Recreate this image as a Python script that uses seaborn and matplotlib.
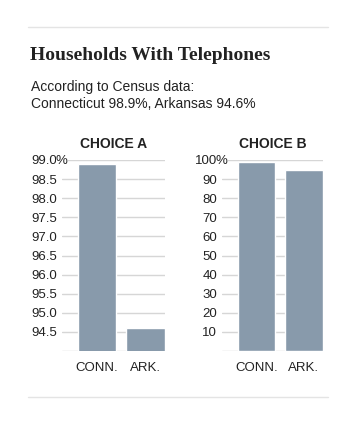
import pandas as pd
import seaborn as sns
import matplotlib.pyplot as plt
from matplotlib.lines import Line2D

# Same data, two y axes: truncated (choice A) vs. zero-based (choice B)
states = ["CONN.", "ARK."]
pct_phones = [98.9, 94.6]

ticks_a = [94.0, 94.5, 95.0, 95.5, 96.0, 96.5, 97.0, 97.5, 98.0, 98.5, 99.0]
labels_a = ["", "94.5", "95.0", "95.5", "96.0", "96.5", "97.0", "97.5", "98.0", "98.5", "99.0"]
ticks_b = [0, 10, 20, 30, 40, 50, 60, 70, 80, 90, 100]
labels_b = ["", "10", "20", "30", "40", "50", "60", "70", "80", "90", "100"]

df = pd.DataFrame({"state": states, "pct": pct_phones})

BAR = "#889aab"
GRID = "#d6d6d6"
TXT = "#222222"

sns.set_style("white")
plt.rcParams["font.family"] = ["Liberation Sans", "DejaVu Sans"]

fig = plt.figure(figsize=(3.61, 4.21), dpi=100)

# thin rules top and bottom
fig.add_artist(Line2D([28 / 361, 328 / 361], [1 - 27 / 421] * 2, color="#e4e4e4", lw=1))
fig.add_artist(Line2D([28 / 361, 328 / 361], [1 - 397 / 421] * 2, color="#e4e4e4", lw=1))

fig.text(30 / 361, 1 - 60 / 421, "Households With Telephones", family="Liberation Serif",
         fontweight="bold", fontsize=14, color=TXT, va="baseline")
fig.text(31 / 361, 1 - 90.5 / 421, "According to Census data:", fontsize=10, color=TXT, va="baseline")
fig.text(31 / 361, 1 - 107.5 / 421, "Connecticut 98.9%, Arkansas 94.6%", fontsize=10, color=TXT, va="baseline")

panels = [
    ([62, 165], "CHOICE A", (94, 99), ticks_a, labels_a),
    ([222, 323], "CHOICE B", (0, 100), ticks_b, labels_b),
]

for (x0, x1), title, ylim, ticks, labels in panels:
    ax = fig.add_axes([x0 / 361, 1 - 351 / 421, (x1 - x0) / 361, 191 / 421])
    ax.set_axisbelow(True)
    sns.barplot(data=df, x="state", y="pct", color=BAR, saturation=1, width=0.8, ax=ax)
    ax.set_ylim(*ylim)
    ax.set_xlim(-0.73, 1.41)
    ax.set_yticks(ticks)
    ax.set_yticklabels(labels)
    ax.yaxis.grid(True, color=GRID, lw=1)
    ax.xaxis.grid(False)
    sns.despine(ax=ax, left=True, bottom=True)
    ax.tick_params(axis="y", length=0, pad=3.5, labelsize=9.5, labelcolor=TXT)
    ax.tick_params(axis="x", length=0, pad=8, labelsize=9.5, labelcolor=TXT)
    ax.set_xlabel("")
    ax.set_ylabel("")
    # percent sign hangs past the right-aligned top number
    ax.annotate("%", xy=(0, ticks[-1]), xycoords=("axes fraction", "data"),
                xytext=(-4.4, 0), textcoords="offset points", ha="left", va="center_baseline",
                fontsize=9.5, color=TXT, annotation_clip=False,
                bbox=dict(boxstyle="square,pad=0", fc="white", ec="none"))
    ax.set_title(title, fontsize=10, fontweight="bold", color=TXT, pad=9)

fig.savefig("out.png", dpi=100)
